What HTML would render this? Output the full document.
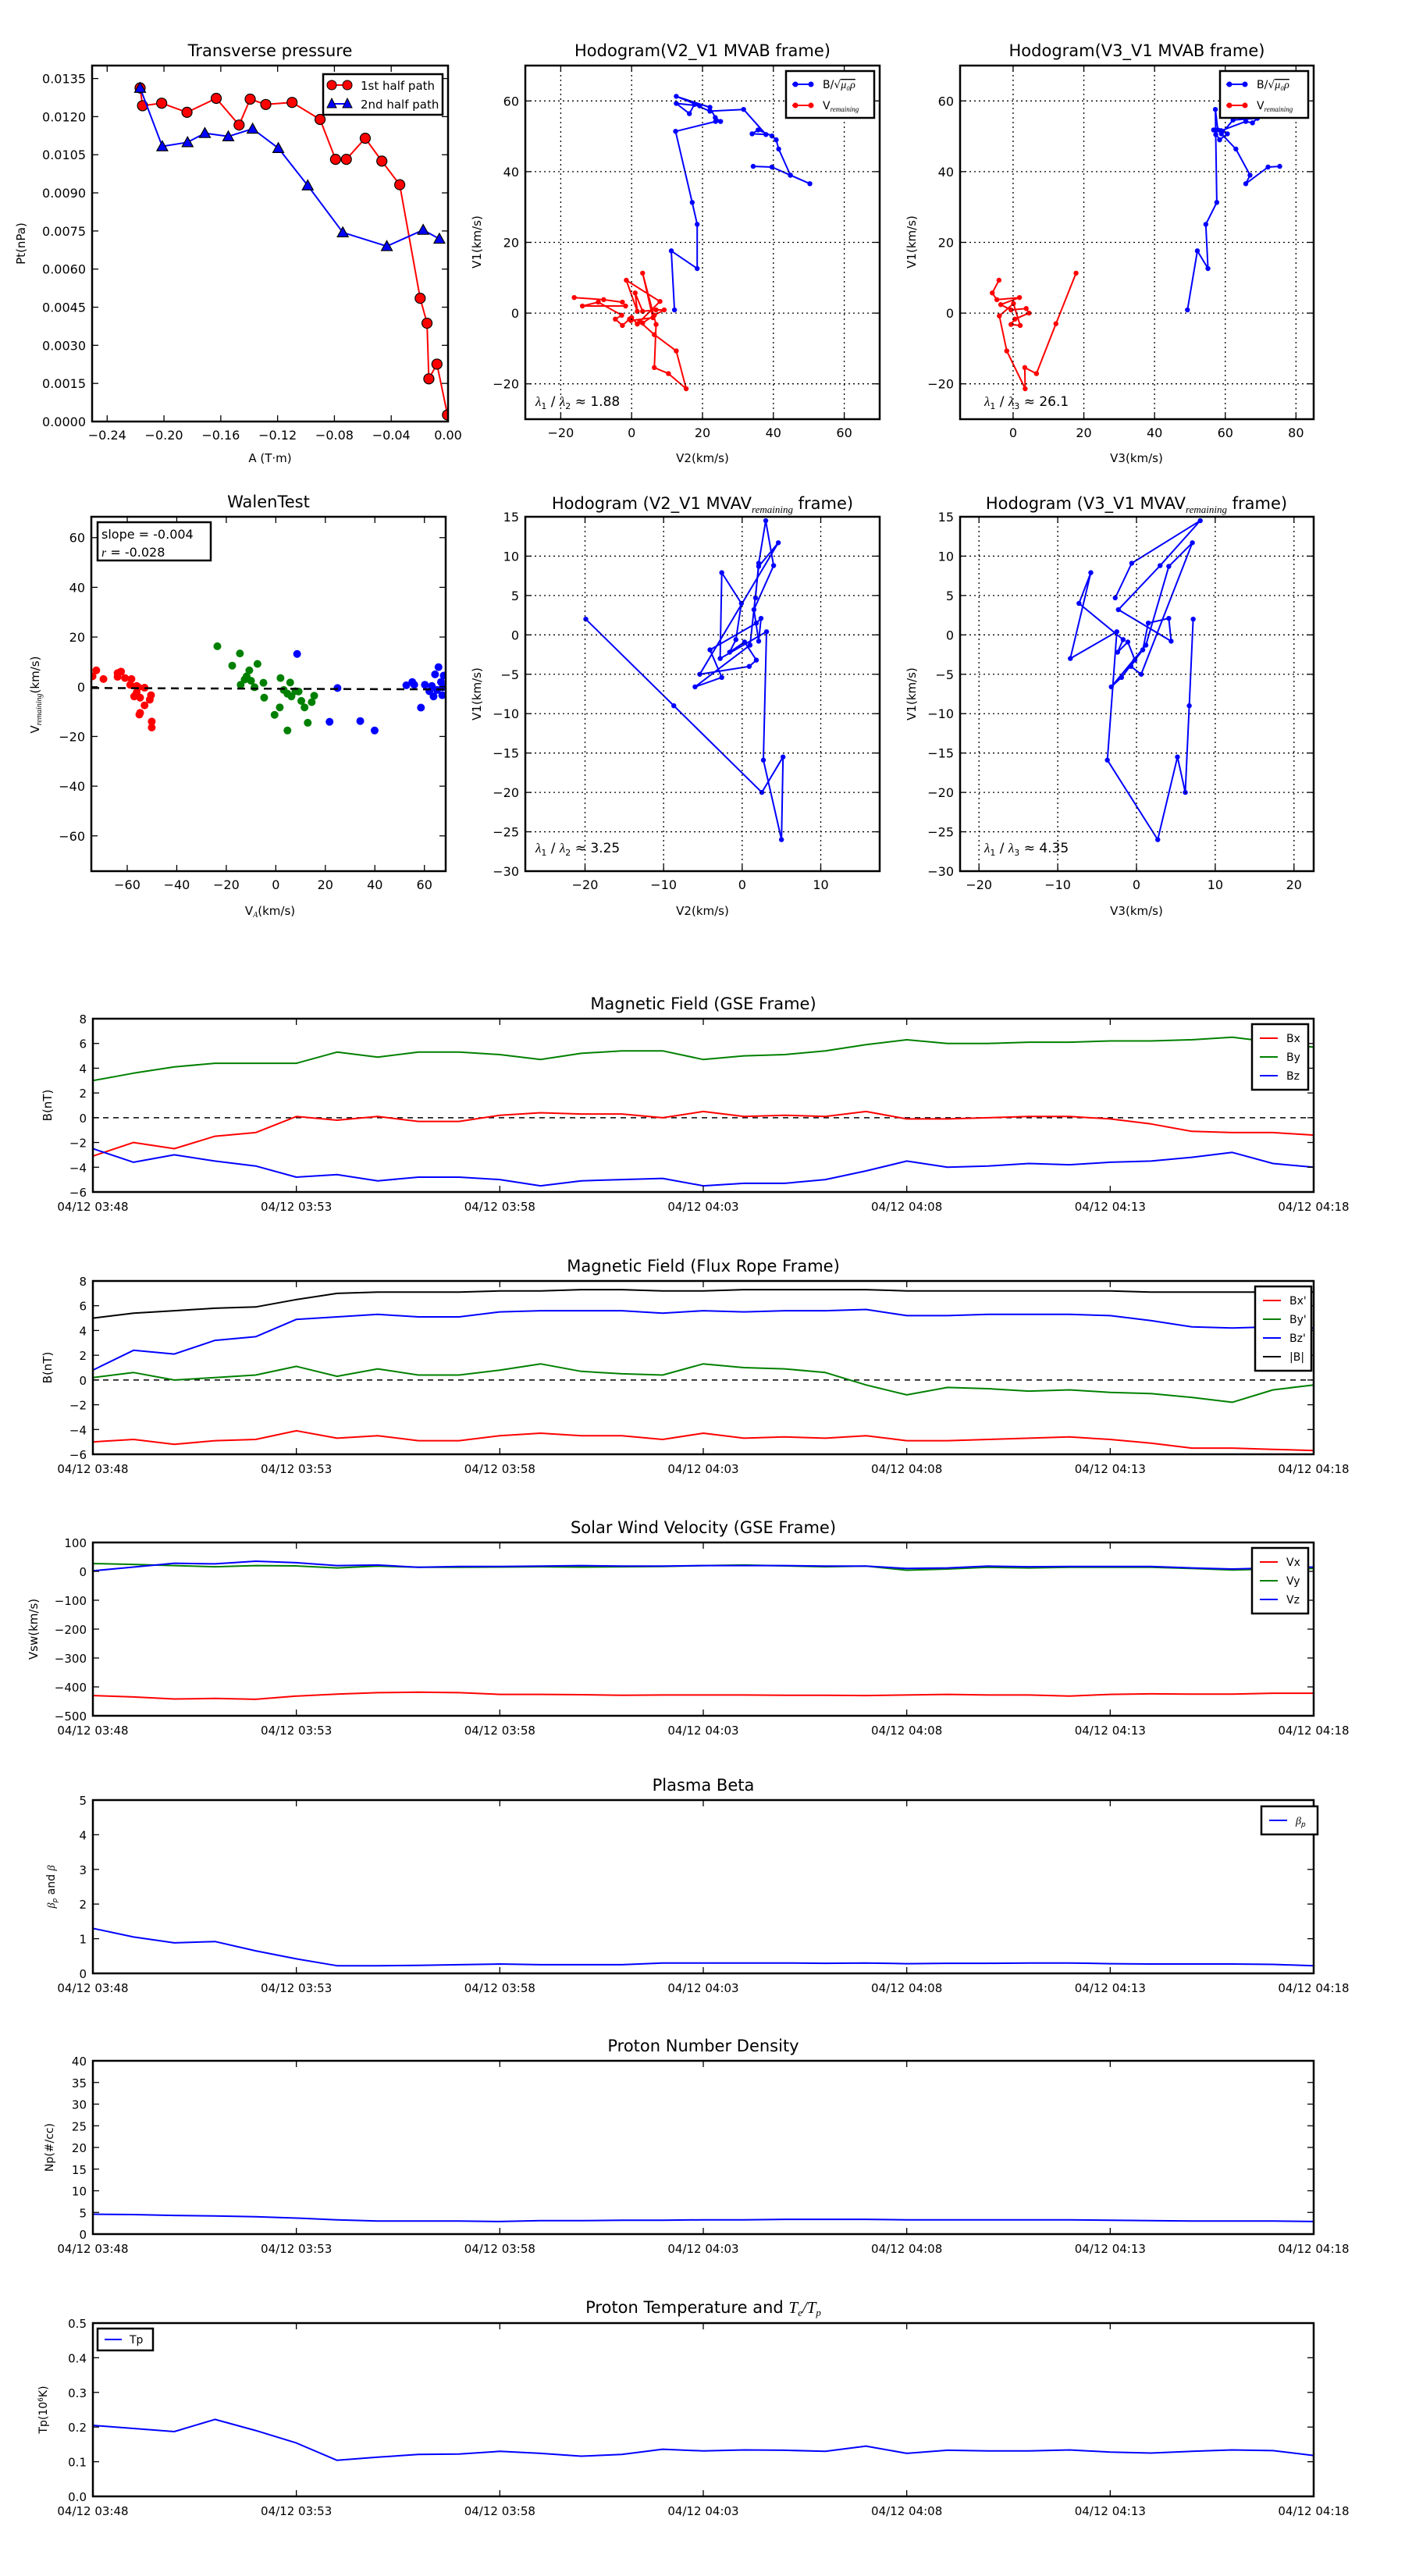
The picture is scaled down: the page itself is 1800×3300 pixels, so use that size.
<!DOCTYPE html>
<html><head><meta charset="utf-8"><style>
html,body{margin:0;padding:0;background:#fff;}
svg{display:block;font-family:"DejaVu Sans","Liberation Sans",sans-serif;}
</style></head>
<body>
<svg id="fig" xmlns="http://www.w3.org/2000/svg" width="1800" height="3300" viewBox="0 0 1800 3300"></svg>
<script>
// ---------- Transverse pressure data ----------
const ptA1 = [-0.2168,-0.2151,-0.2016,-0.1838,-0.1632,-0.1471,-0.1393,-0.1283,-0.1098,-0.0901,-0.0792,-0.0716,-0.0583,-0.0466,-0.0340,-0.0196,-0.0148,-0.0135,-0.0078,-0.0004];
const ptP1 = [0.01313,0.01243,0.01253,0.01217,0.01272,0.01167,0.01269,0.01248,0.01256,0.01189,0.01032,0.01032,0.01115,0.01025,0.00932,0.00485,0.00387,0.00168,0.00226,0.00026];
const ptA2 = [-0.2168,-0.2012,-0.1834,-0.1712,-0.1547,-0.1376,-0.1195,-0.0988,-0.0741,-0.0431,-0.0175,-0.0061];
const ptP2 = [0.01313,0.01083,0.01099,0.01135,0.01122,0.01152,0.01076,0.00929,0.00744,0.00690,0.00754,0.00719];
const ptXTicks = [-0.24,-0.20,-0.16,-0.12,-0.08,-0.04,0.00];
const ptYTicks = [0,0.0015,0.003,0.0045,0.006,0.0075,0.009,0.0105,0.012,0.0135];

// ---------- MVAB hodograms ----------
const hbV2 = [12.1,11.2,18.5,18.5,17.1,12.4,23.7,25.1,23.6,22.1,12.6,19.2,12.6,16.3,17.7,22.1,31.6,37.9,34.0,35.7,39.6,40.8,41.5,44.8,50.3,44.8,39.6,34.3];
const hbV3 = [49.3,52.1,55.1,54.5,57.6,57.3,57.2,57.9,56.7,58.4,60.6,58.8,65.8,67.7,69.1,62.2,58.9,63.0,67.0,65.8,72.1,75.4,72.1,75.4,65.8,67.0,72.1,75.4];
const hbV1 = [0.9,17.6,12.6,25.1,31.3,51.4,54.2,54.2,55.3,58.2,61.3,58.6,59.3,56.4,59.0,57.1,57.6,50.5,50.7,51.8,50.1,49.0,46.4,39.0,36.6,39.0,41.3,41.5];
const hb3V1 = [0.9,17.6,12.6,25.1,31.3,50.5,57.6,51.8,51.8,49.0,50.7,51.6,54.2,53.8,55.1,54.6,50.7,46.4,39.0,36.6,41.3,41.5];
const hb3V3 = [49.3,52.1,55.1,54.5,57.6,57.3,57.2,57.9,56.7,58.4,60.6,58.8,65.8,67.7,69.1,62.2,58.9,63.0,67.0,65.8,72.1,75.4];
const hrV2 = [-16.2,-7.9,-2.6,-1.7,-13.9,-9.4,-2.8,-4.6,-2.6,-0.6,0.0,1.6,3.1,6.4,9.2,6.9,3.1,1.0,1.6,-1.5,8.0,2.3,6.4,12.6,15.4,10.4,6.4,6.9,3.1,6.0,-0.2];
const hrV1 = [4.4,3.8,3.1,2.0,2.0,3.1,-0.6,-1.7,-3.5,-1.7,-1.3,-3.1,-2.8,-0.6,0.9,0.9,0.5,5.7,0.5,9.3,3.3,-2.4,-6.1,-10.7,-21.4,-17.1,-15.4,-3.2,11.3,-1.3,-2.1];
const hr3V3 = [-4.0,-5.9,-4.6,1.8,-3.5,-0.6,3.7,4.5,0.5,-0.6,2.0,0.1,-3.9,-1.8,3.4,3.3,6.6,12.1,17.8];
const hr3V1 = [9.3,5.7,3.8,4.4,2.4,0.9,1.3,0.0,-1.7,-3.2,-3.5,2.7,-0.8,-10.7,-21.4,-15.4,-17.1,-3.0,11.3];
const hodoTicksX1 = [-20,0,20,40,60];
const hodoTicksX2 = [0,20,40,60,80];
const hodoTicksY = [-20,0,20,40,60];

// ---------- Walen test ----------
const wRedX = [-74,-72.5,-69.6,-63.9,-62.5,-63.9,-60.9,-58.3,-58.8,-56.2,-55.5,-53.0,-57.2,-54.8,-53.0,-50.4,-50.9,-55.1,-54.8,-50.1,-50.1,-56.2];
const wRedY = [4.2,6.6,3.1,4.0,6.1,5.5,3.5,3.1,0.8,0.3,-0.2,-0.4,-3.9,-4.4,-7.5,-3.4,-5.2,-11.2,-10.5,-14.0,-16.4,-2.3];
const wGrnX = [-23.6,-14.5,-17.6,-7.4,-10.7,-11.8,-12.6,-14.2,-10.0,-8.6,-5.0,-4.7,1.9,5.8,3.2,4.7,6.3,9.2,10.3,11.6,14.5,15.5,1.6,-0.5,12.9,4.7,7.9];
const wGrnY = [16.3,13.4,8.5,9.2,6.6,4.2,2.9,0.8,2.4,-0.2,1.6,-4.4,3.5,1.7,-1.3,-2.8,-3.9,-1.9,-5.7,-8.3,-6.2,-3.6,-8.3,-11.3,-14.5,-17.6,-1.8];
const wBluX = [8.6,24.9,21.7,34.1,39.9,52.7,55.1,55.9,58.6,60.2,65.7,64.3,67.8,63.0,65.1,63.7,67.2,62.0,66.7,67.4];
const wBluY = [13.2,-0.5,-14.1,-13.8,-17.6,0.6,1.9,0.8,-8.4,0.8,7.9,5.0,4.5,0.3,-1.3,-3.9,-3.4,-1.8,1.9,-0.2];
const walenSlope = -0.004;
const walenIntercept = -0.8;
const walenXTicks = [-60,-40,-20,0,20,40,60];
const walenYTicks = [-60,-40,-20,0,20,40,60];

// ---------- MVAV hodograms ----------
const mvV2 = [-19.9,-8.7,2.5,5.2,5.0,2.7,3.1,-2.8,-2.6,-0.1,-0.8,-1.6,0.3,1.8,0.9,-5.4,4.6,2.1,1.0,-6.0,-2.6,-4.1,1.8,2.4,2.1,1.5,4.0,3.0,2.1,1.7];
const mvV3 = [7.2,6.7,6.2,5.2,2.7,-3.7,-2.5,-8.4,-5.8,-7.3,-1.7,-2.4,-1.1,-0.2,-0.7,0.6,7.1,4.1,1.2,-3.2,-1.9,0.8,1.5,4.1,4.4,-2.3,3.0,8.1,-0.6,-2.7];
const mvV1 = [2.0,-9.0,-20.0,-15.5,-26.0,-15.9,0.4,-3.0,7.9,4.0,-0.6,-2.2,-0.9,-3.2,-4.0,-5.0,11.7,8.7,-1.3,-6.6,-5.4,-1.9,1.5,2.1,-0.8,3.2,8.8,14.5,9.1,4.7];
const mvXTicks2 = [-20,-10,0,10];
const mvXTicks3 = [-20,-10,0,10,20];
const mvYTicks = [-30,-25,-20,-15,-10,-5,0,5,10,15];

// ---------- Time series (one point per minute, 03:48 .. 04:18) ----------
const timeLabels = ["04/12 03:48","04/12 03:53","04/12 03:58","04/12 04:03","04/12 04:08","04/12 04:13","04/12 04:18"];
const timeTicks = [0,5,10,15,20,25,30];
const gseBx = [-3.1,-2.0,-2.5,-1.5,-1.2,0.1,-0.2,0.1,-0.3,-0.3,0.2,0.4,0.3,0.3,0.0,0.5,0.1,0.2,0.1,0.5,-0.1,-0.1,0.0,0.1,0.1,-0.1,-0.5,-1.1,-1.2,-1.2,-1.4];
const gseBy = [3.0,3.6,4.1,4.4,4.4,4.4,5.3,4.9,5.3,5.3,5.1,4.7,5.2,5.4,5.4,4.7,5.0,5.1,5.4,5.9,6.3,6.0,6.0,6.1,6.1,6.2,6.2,6.3,6.5,6.1,5.7];
const gseBz = [-2.5,-3.6,-3.0,-3.5,-3.9,-4.8,-4.6,-5.1,-4.8,-4.8,-5.0,-5.5,-5.1,-5.0,-4.9,-5.5,-5.3,-5.3,-5.0,-4.3,-3.5,-4.0,-3.9,-3.7,-3.8,-3.6,-3.5,-3.2,-2.8,-3.7,-4.0];
const frBx = [-5.0,-4.8,-5.2,-4.9,-4.8,-4.1,-4.7,-4.5,-4.9,-4.9,-4.5,-4.3,-4.5,-4.5,-4.8,-4.3,-4.7,-4.6,-4.7,-4.5,-4.9,-4.9,-4.8,-4.7,-4.6,-4.8,-5.1,-5.5,-5.5,-5.6,-5.7];
const frBy = [0.2,0.6,0.0,0.2,0.4,1.1,0.3,0.9,0.4,0.4,0.8,1.3,0.7,0.5,0.4,1.3,1.0,0.9,0.6,-0.4,-1.2,-0.6,-0.7,-0.9,-0.8,-1.0,-1.1,-1.4,-1.8,-0.8,-0.4];
const frBz = [0.8,2.4,2.1,3.2,3.5,4.9,5.1,5.3,5.1,5.1,5.5,5.6,5.6,5.6,5.4,5.6,5.5,5.6,5.6,5.7,5.2,5.2,5.3,5.3,5.3,5.2,4.8,4.3,4.2,4.3,4.2];
const frBt = [5.0,5.4,5.6,5.8,5.9,6.5,7.0,7.1,7.1,7.1,7.2,7.2,7.3,7.3,7.2,7.2,7.3,7.3,7.3,7.3,7.2,7.2,7.2,7.2,7.2,7.2,7.1,7.1,7.1,7.1,7.1];
const vx = [-430,-435,-442,-440,-443,-432,-425,-420,-418,-420,-426,-426,-427,-429,-428,-428,-428,-429,-429,-430,-428,-426,-428,-428,-432,-426,-424,-425,-425,-422,-422];
const vy = [27,24,20,16,20,19,12,18,14,14,15,16,15,16,17,20,22,19,16,18,4,8,14,12,14,14,14,10,5,8,10];
const vz = [2,15,28,26,35,30,20,22,14,17,17,18,20,18,18,20,20,20,18,18,10,12,18,16,17,17,17,12,8,12,15];
const betaP = [1.3,1.05,0.88,0.92,0.65,0.42,0.22,0.22,0.23,0.25,0.27,0.25,0.25,0.25,0.3,0.3,0.3,0.3,0.29,0.3,0.28,0.29,0.29,0.3,0.3,0.28,0.27,0.27,0.27,0.26,0.22];
const density = [4.6,4.5,4.3,4.2,4.0,3.7,3.3,3.0,3.0,3.0,2.9,3.1,3.1,3.2,3.2,3.3,3.3,3.4,3.4,3.4,3.3,3.3,3.3,3.3,3.3,3.2,3.1,3.0,3.0,3.0,2.9];
const tempP = [0.205,0.196,0.187,0.222,0.19,0.154,0.104,0.113,0.121,0.122,0.130,0.124,0.116,0.121,0.136,0.131,0.134,0.133,0.130,0.145,0.124,0.133,0.131,0.131,0.134,0.128,0.125,0.130,0.134,0.132,0.118];

// ---------- drawing helpers ----------
const NS = "http://www.w3.org/2000/svg";
const fig = document.getElementById('fig');
function mk(tag, attrs, parent, name) {
  const el = document.createElementNS(NS, tag);
  for (const k in attrs) el.setAttribute(k, attrs[k]);
  
  
  (parent || fig).appendChild(el);
  return el;
}
function txt(s, x, y, size, anchor, parent, name, extra) {
  const t = mk('text', Object.assign({x: x, y: y, 'font-size': size, 'text-anchor': anchor || 'middle', fill: '#000'}, extra || {}), parent, name);
  t.textContent = s;
  return t;
}
function fmtNum(v, d) { const s = Math.abs(v).toFixed(d); return (v < -1e-12 ? '\u2212' : '') + s; }

function axes(o) {
  const g = mk('g', {}, fig, o.name);
  const sx = v => o.x0 + (v - o.xmin) / (o.xmax - o.xmin) * o.w;
  const sy = v => o.y0 + o.h - (v - o.ymin) / (o.ymax - o.ymin) * o.h;
  const clipId = 'clip-' + o.name;
  const cp = mk('clipPath', {id: clipId}, g, 'clip-region');
  mk('rect', {x: o.x0, y: o.y0, width: o.w, height: o.h}, cp, 'clip-rect');
  const plot = mk('g', {'clip-path': 'url(#' + clipId + ')'}, g, 'plot-area');
  // grid
  if (o.grid) {
    o.xticks.forEach(v => mk('line', {x1: sx(v), x2: sx(v), y1: o.y0, y2: o.y0 + o.h, stroke: '#000', 'stroke-width': 1.3, 'stroke-dasharray': '2,4'}, g, 'grid-line-x'));
    o.yticks.forEach(v => mk('line', {x1: o.x0, x2: o.x0 + o.w, y1: sy(v), y2: sy(v), stroke: '#000', 'stroke-width': 1.3, 'stroke-dasharray': '2,4'}, g, 'grid-line-y'));
  }
  const tl = 8;
  o.xticks.forEach((v, i) => {
    const x = sx(v);
    mk('line', {x1: x, x2: x, y1: o.y0 + o.h, y2: o.y0 + o.h - tl, stroke: '#000', 'stroke-width': 1.3}, g, 'x-tick');
    mk('line', {x1: x, x2: x, y1: o.y0, y2: o.y0 + tl, stroke: '#000', 'stroke-width': 1.3}, g, 'x-tick-top');
    const lab = o.xlabels ? o.xlabels[i] : o.xfmt(v);
    txt(lab, x, o.y0 + o.h + (o.xlabOff || 23), o.tickSize || 16, 'middle', g, 'x-tick-label');
  });
  o.yticks.forEach((v, i) => {
    const y = sy(v);
    mk('line', {x1: o.x0, x2: o.x0 + tl, y1: y, y2: y, stroke: '#000', 'stroke-width': 1.3}, g, 'y-tick');
    mk('line', {x1: o.x0 + o.w, x2: o.x0 + o.w - tl, y1: y, y2: y, stroke: '#000', 'stroke-width': 1.3}, g, 'y-tick-right');
    txt(o.yfmt(v), o.x0 - 8, y + 6, o.tickSize || 16, 'end', g, 'y-tick-label');
  });
  mk('rect', {x: o.x0, y: o.y0, width: o.w, height: o.h, fill: 'none', stroke: '#000', 'stroke-width': 2.5}, g, 'axes-frame');
  if (o.title) txt(o.title, o.x0 + o.w / 2, o.y0 - 12, 21, 'middle', g, 'chart-title');
  return {g, plot, sx, sy};
}
function polyline(ax, xs, ys, color, w, name) {
  const pts = xs.map((x, i) => ax.sx(x).toFixed(1) + ',' + ax.sy(ys[i]).toFixed(1)).join(' ');
  return mk('polyline', {points: pts, fill: 'none', stroke: color, 'stroke-width': w || 2, 'stroke-linejoin': 'round'}, ax.plot, name);
}
function dots(ax, xs, ys, color, r, edge, name) {
  xs.forEach((x, i) => {
    mk('circle', {cx: ax.sx(x), cy: ax.sy(ys[i]), r: r, fill: color, stroke: edge || color, 'stroke-width': edge ? 1.2 : 0}, ax.plot, name);
  });
}
function tris(ax, xs, ys, color, s, name) {
  xs.forEach((x, i) => {
    const cx = ax.sx(x), cy = ax.sy(ys[i]);
    mk('polygon', {points: `${cx},${cy - s} ${cx - s},${cy + s * 0.8} ${cx + s},${cy + s * 0.8}`, fill: color, stroke: '#000', 'stroke-width': 1.2}, ax.plot, name);
  });
}
function ylabel(s, x, y, size, name) {
  const t = txt(s, x, y, size || 15, 'middle', fig, name, {transform: `rotate(-90 ${x} ${y})`});
  return t;
}
function legendBox(x, y, w, h, name) {
  const g = mk('g', {}, fig, name);
  mk('rect', {x: x, y: y, width: w, height: h, fill: '#fff', stroke: '#000', 'stroke-width': 2.5}, g, 'legend-frame');
  return g;
}

// ---------- 1. Transverse pressure ----------
(function () {
  const ax = axes({name: 'transverse-pressure-chart', x0: 118, y0: 84, w: 456, h: 456, xmin: -0.2506, xmax: 0, ymin: 0, ymax: 0.01401,
    xticks: ptXTicks, yticks: ptYTicks, xfmt: v => fmtNum(v, 2), yfmt: v => v.toFixed(4), title: 'Transverse pressure', tickSize: 16});
  polyline(ax, ptA1, ptP1, '#f00', 2, 'first-half-path-line');
  dots(ax, ptA1, ptP1, '#f00', 6.5, '#000', 'first-half-point');
  polyline(ax, ptA2, ptP2, '#00f', 2, 'second-half-path-line');
  tris(ax, ptA2, ptP2, '#00f', 7, 'second-half-point');
  ylabel('Pt(nPa)', 32, 312, 15, 'y-axis-title');
  txt('A (T\u00b7m)', 346, 592, 15, 'middle', fig, 'x-axis-title');
  const lg = legendBox(414, 95, 153, 52, 'legend');
  mk('line', {x1: 425, x2: 445, y1: 109, y2: 109, stroke: '#f00', 'stroke-width': 2}, lg, 'legend-line');
  mk('circle', {cx: 425, cy: 109, r: 6, fill: '#f00', stroke: '#000'}, lg, 'legend-marker');
  mk('circle', {cx: 445, cy: 109, r: 6, fill: '#f00', stroke: '#000'}, lg, 'legend-marker');
  txt('1st half path', 462, 115, 15, 'start', lg, 'legend-entry');
  mk('line', {x1: 425, x2: 445, y1: 133, y2: 133, stroke: '#00f', 'stroke-width': 2}, lg, 'legend-line');
  mk('polygon', {points: '425,126 419,138 431,138', fill: '#00f', stroke: '#000'}, lg, 'legend-marker');
  mk('polygon', {points: '445,126 439,138 451,138', fill: '#00f', stroke: '#000'}, lg, 'legend-marker');
  txt('2nd half path', 462, 139, 15, 'start', lg, 'legend-entry');
})();

function hodoLegend(x, y, name) {
  const lg = legendBox(x, y, 113, 60, name);
  mk('line', {x1: x + 8, x2: x + 32, y1: y + 17, y2: y + 17, stroke: '#00f', 'stroke-width': 2}, lg, 'legend-line');
  mk('circle', {cx: x + 12, cy: y + 17, r: 3.5, fill: '#00f'}, lg, 'legend-marker');
  mk('circle', {cx: x + 32, cy: y + 17, r: 3.5, fill: '#00f'}, lg, 'legend-marker');
  const t1 = txt('', x + 47, y + 22, 14, 'start', lg, 'legend-entry');
  t1.innerHTML = 'B/\u221a<tspan font-style="italic" font-family="Liberation Serif, serif" text-decoration="overline">\u03bc\u2080\u03c1</tspan>';
  mk('line', {x1: x + 8, x2: x + 32, y1: y + 44, y2: y + 44, stroke: '#f00', 'stroke-width': 2}, lg, 'legend-line');
  mk('circle', {cx: x + 12, cy: y + 44, r: 3.5, fill: '#f00'}, lg, 'legend-marker');
  mk('circle', {cx: x + 32, cy: y + 44, r: 3.5, fill: '#f00'}, lg, 'legend-marker');
  const t2 = txt('', x + 47, y + 49, 14, 'start', lg, 'legend-entry');
  t2.innerHTML = 'V<tspan font-size="9" dy="3" font-style="italic" font-family="Liberation Serif, serif">remaining</tspan>';
}
function ratioText(x, y, a, b, val, name) {
  const t = txt('', x, y, 17, 'start', fig, name);
  t.innerHTML = `<tspan font-style="italic" font-family="Liberation Serif, serif">\u03bb</tspan><tspan font-size="11" dy="4">${a}</tspan><tspan dy="-4"> / </tspan><tspan font-style="italic" font-family="Liberation Serif, serif">\u03bb</tspan><tspan font-size="11" dy="4">${b}</tspan><tspan dy="-4"> \u2248 ${val}</tspan>`;
}

// ---------- 2. Hodogram V2_V1 MVAB ----------
(function () {
  const ax = axes({name: 'hodogram-v2-v1-mvab', x0: 673, y0: 84, w: 454, h: 453, xmin: -30, xmax: 70, ymin: -30, ymax: 70,
    xticks: hodoTicksX1, yticks: hodoTicksY, xfmt: v => fmtNum(v, 0), yfmt: v => fmtNum(v, 0), grid: true,
    title: 'Hodogram(V2_V1 MVAB frame)'});
  polyline(ax, hbV2, hbV1, '#00f', 2, 'b-alfven-path');
  dots(ax, hbV2, hbV1, '#00f', 3.2, null, 'b-alfven-point');
  polyline(ax, hrV2, hrV1, '#f00', 2, 'v-remaining-path');
  dots(ax, hrV2, hrV1, '#f00', 3.2, null, 'v-remaining-point');
  hodoLegend(1007, 91, 'legend');
  ratioText(686, 520, '1', '2', '1.88', 'eigenvalue-ratio');
  ylabel('V1(km/s)', 616, 310, 15, 'y-axis-title');
  txt('V2(km/s)', 900, 592, 15, 'middle', fig, 'x-axis-title');
})();

// ---------- 3. Hodogram V3_V1 MVAB ----------
(function () {
  const ax = axes({name: 'hodogram-v3-v1-mvab', x0: 1230, y0: 84, w: 453, h: 453, xmin: -15, xmax: 85, ymin: -30, ymax: 70,
    xticks: hodoTicksX2, yticks: hodoTicksY, xfmt: v => fmtNum(v, 0), yfmt: v => fmtNum(v, 0), grid: true,
    title: 'Hodogram(V3_V1 MVAB frame)'});
  polyline(ax, hb3V3, hb3V1, '#00f', 2, 'b-alfven-path');
  dots(ax, hb3V3, hb3V1, '#00f', 3.2, null, 'b-alfven-point');
  polyline(ax, hr3V3, hr3V1, '#f00', 2, 'v-remaining-path');
  dots(ax, hr3V3, hr3V1, '#f00', 3.2, null, 'v-remaining-point');
  hodoLegend(1563, 91, 'legend');
  ratioText(1261, 520, '1', '3', '26.1', 'eigenvalue-ratio');
  ylabel('V1(km/s)', 1173, 310, 15, 'y-axis-title');
  txt('V3(km/s)', 1456, 592, 15, 'middle', fig, 'x-axis-title');
})();

// ---------- 4. Walen test ----------
(function () {
  const ax = axes({name: 'walen-test-chart', x0: 117, y0: 662, w: 454, h: 454, xmin: -74.5, xmax: 68.6, ymin: -74.2, ymax: 68.4,
    xticks: walenXTicks, yticks: walenYTicks, xfmt: v => fmtNum(v, 0), yfmt: v => fmtNum(v, 0), title: 'WalenTest'});
  dots(ax, wRedX, wRedY, '#f00', 5, null, 'walen-point-red');
  dots(ax, wGrnX, wGrnY, '#008000', 5, null, 'walen-point-green');
  dots(ax, wBluX, wBluY, '#00f', 5, null, 'walen-point-blue');
  mk('line', {x1: ax.sx(-74.5), x2: ax.sx(68.6), y1: ax.sy(walenSlope * -74.5 + walenIntercept), y2: ax.sy(walenSlope * 68.6 + walenIntercept),
    stroke: '#000', 'stroke-width': 2.5, 'stroke-dasharray': '10,7'}, ax.plot, 'fit-line');
  const lg = legendBox(125, 669, 145, 49, 'fit-stats-box');
  txt('slope = -0.004', 130, 690, 16, 'start', lg, 'slope-text');
  const r = txt('', 130, 713, 16, 'start', lg, 'r-text');
  r.innerHTML = '<tspan font-style="italic" font-family="Liberation Serif, serif">r</tspan> = -0.028';
  const yl = ylabel('', 50, 890, 15, 'y-axis-title');
  yl.innerHTML = 'V<tspan font-size="10" dy="3" font-style="italic" font-family="Liberation Serif, serif">remaining</tspan><tspan dy="-3">(km/s)</tspan>';
  const xl = txt('', 346, 1172, 15, 'middle', fig, 'x-axis-title');
  xl.innerHTML = 'V<tspan font-size="10" dy="3" font-style="italic" font-family="Liberation Serif, serif">A</tspan><tspan dy="-3">(km/s)</tspan>';
})();

// ---------- 5/6. MVAV hodograms ----------
function mvavTitle(x, lab, name) {
  const t = txt('', x, 652, 21, 'middle', fig, name);
  t.innerHTML = `Hodogram (${lab}_V1 MVAV<tspan font-size="13" dy="5" font-style="italic" font-family="Liberation Serif, serif">remaining</tspan><tspan dy="-5"> frame)</tspan>`;
}
(function () {
  const ax = axes({name: 'hodogram-v2-v1-mvav', x0: 673, y0: 662, w: 454, h: 454, xmin: -27.6, xmax: 17.5, ymin: -30, ymax: 15,
    xticks: mvXTicks2, yticks: mvYTicks, xfmt: v => fmtNum(v, 0), yfmt: v => fmtNum(v, 0), grid: true});
  polyline(ax, mvV2, mvV1, '#00f', 2, 'velocity-path');
  dots(ax, mvV2, mvV1, '#00f', 3.2, null, 'velocity-point');
  mvavTitle(900, 'V2', 'chart-title');
  ratioText(686, 1092, '1', '2', '3.25', 'eigenvalue-ratio');
  ylabel('V1(km/s)', 616, 889, 15, 'y-axis-title');
  txt('V2(km/s)', 900, 1172, 15, 'middle', fig, 'x-axis-title');
})();
(function () {
  const ax = axes({name: 'hodogram-v3-v1-mvav', x0: 1230, y0: 662, w: 453, h: 454, xmin: -22.4, xmax: 22.5, ymin: -30, ymax: 15,
    xticks: mvXTicks3, yticks: mvYTicks, xfmt: v => fmtNum(v, 0), yfmt: v => fmtNum(v, 0), grid: true});
  polyline(ax, mvV3, mvV1, '#00f', 2, 'velocity-path');
  dots(ax, mvV3, mvV1, '#00f', 3.2, null, 'velocity-point');
  mvavTitle(1456, 'V3', 'chart-title');
  ratioText(1261, 1092, '1', '3', '4.35', 'eigenvalue-ratio');
  ylabel('V1(km/s)', 1173, 889, 15, 'y-axis-title');
  txt('V3(km/s)', 1456, 1172, 15, 'middle', fig, 'x-axis-title');
})();

// ---------- time-series panels ----------
const minutes = gseBx.map((_, i) => i);
function tsAxes(name, y0, ymin, ymax, yticks, yfmt, title) {
  return axes({name: name, x0: 119, y0: y0, w: 1564, h: 222, xmin: 0, xmax: 30, ymin: ymin, ymax: ymax,
    xticks: timeTicks, xlabels: timeLabels, yticks: yticks, yfmt: yfmt, title: title, tickSize: 15, xlabOff: 24});
}
function tsLegend(x, y, entries, name) {
  const h = entries.length * 24 + 12;
  const lg = legendBox(x, y, 72, h, name);
  entries.forEach((e, i) => {
    const yy = y + 18 + i * 24;
    mk('line', {x1: x + 10, x2: x + 33, y1: yy, y2: yy, stroke: e[1], 'stroke-width': 2}, lg, 'legend-line');
    const t = txt('', x + 44, yy + 5, 14, 'start', lg, 'legend-entry');
    t.innerHTML = e[0];
  });
}
const intFmt = v => fmtNum(v, 0);

(function () {
  const ax = tsAxes('magnetic-field-gse-chart', 1305, -6, 8, [-6,-4,-2,0,2,4,6,8], intFmt, 'Magnetic Field (GSE Frame)');
  mk('line', {x1: ax.sx(0), x2: ax.sx(30), y1: ax.sy(0), y2: ax.sy(0), stroke: '#000', 'stroke-width': 1.5, 'stroke-dasharray': '7,6'}, ax.plot, 'zero-line');
  polyline(ax, minutes, gseBx, '#f00', 2, 'bx-line');
  polyline(ax, minutes, gseBy, '#008000', 2, 'by-line');
  polyline(ax, minutes, gseBz, '#00f', 2, 'bz-line');
  tsLegend(1604, 1312, [['Bx', '#f00'], ['By', '#008000'], ['Bz', '#00f']], 'legend');
  ylabel('B(nT)', 66, 1416, 15, 'y-axis-title');
})();
(function () {
  const ax = tsAxes('magnetic-field-flux-rope-chart', 1641, -6, 8, [-6,-4,-2,0,2,4,6,8], intFmt, 'Magnetic Field (Flux Rope Frame)');
  mk('line', {x1: ax.sx(0), x2: ax.sx(30), y1: ax.sy(0), y2: ax.sy(0), stroke: '#000', 'stroke-width': 1.5, 'stroke-dasharray': '7,6'}, ax.plot, 'zero-line');
  polyline(ax, minutes, frBx, '#f00', 2, 'bx-prime-line');
  polyline(ax, minutes, frBy, '#008000', 2, 'by-prime-line');
  polyline(ax, minutes, frBz, '#00f', 2, 'bz-prime-line');
  polyline(ax, minutes, frBt, '#000', 2, 'b-magnitude-line');
  tsLegend(1608, 1648, [["Bx'", '#f00'], ["By'", '#008000'], ["Bz'", '#00f'], ['|B|', '#000']], 'legend');
  ylabel('B(nT)', 66, 1752, 15, 'y-axis-title');
})();
(function () {
  const ax = tsAxes('solar-wind-velocity-chart', 1976, -500, 100, [-500,-400,-300,-200,-100,0,100], intFmt, 'Solar Wind Velocity (GSE Frame)');
  polyline(ax, minutes, vx, '#f00', 2, 'vx-line');
  polyline(ax, minutes, vy, '#008000', 2, 'vy-line');
  polyline(ax, minutes, vz, '#00f', 2, 'vz-line');
  tsLegend(1604, 1983, [['Vx', '#f00'], ['Vy', '#008000'], ['Vz', '#00f']], 'legend');
  ylabel('Vsw(km/s)', 48, 2087, 15, 'y-axis-title');
})();
(function () {
  const ax = tsAxes('plasma-beta-chart', 2306, 0, 5, [0,1,2,3,4,5], intFmt, 'Plasma Beta');
  polyline(ax, minutes, betaP, '#00f', 2, 'beta-p-line');
  tsLegend(1616, 2314, [['<tspan font-style="italic" font-family="Liberation Serif, serif">\u03b2</tspan><tspan font-size="9" dy="3" font-style="italic">p</tspan>', '#00f']], 'legend');
  const yl = ylabel('', 70, 2417, 14, 'y-axis-title');
  yl.innerHTML = '<tspan font-style="italic" font-family="Liberation Serif, serif">\u03b2</tspan><tspan font-size="9" dy="3" font-style="italic">p</tspan><tspan dy="-3"> and </tspan><tspan font-style="italic" font-family="Liberation Serif, serif">\u03b2</tspan>';
})();
(function () {
  const ax = tsAxes('proton-density-chart', 2640, 0, 40, [0,5,10,15,20,25,30,35,40], intFmt, 'Proton Number Density');
  polyline(ax, minutes, density, '#00f', 2, 'density-line');
  ylabel('Np(#/cc)', 68, 2751, 14, 'y-axis-title');
})();
(function () {
  const ax = tsAxes('proton-temperature-chart', 2976, 0, 0.5, [0,0.1,0.2,0.3,0.4,0.5], v => v.toFixed(1), '');
  polyline(ax, minutes, tempP, '#00f', 2, 'tp-line');
  const t = txt('', 901, 2963, 21, 'middle', fig, 'chart-title');
  t.innerHTML = 'Proton Temperature and <tspan font-style="italic" font-family="Liberation Serif, serif">T</tspan><tspan font-size="13" dy="4" font-style="italic" font-family="Liberation Serif, serif">e</tspan><tspan dy="-4" font-style="italic" font-family="Liberation Serif, serif">/T</tspan><tspan font-size="13" dy="4" font-style="italic" font-family="Liberation Serif, serif">p</tspan>';
  const lg = legendBox(125, 2983, 71, 28, 'legend');
  mk('line', {x1: 134, x2: 156, y1: 2997, y2: 2997, stroke: '#00f', 'stroke-width': 2}, lg, 'legend-line');
  txt('Tp', 166, 3002, 14, 'start', lg, 'legend-entry');
  const yl = ylabel('', 60, 3087, 14, 'y-axis-title');
  yl.innerHTML = 'Tp(10<tspan font-size="9" dy="-5">6</tspan><tspan dy="5">K)</tspan>';
})();
</script>
</body></html>
